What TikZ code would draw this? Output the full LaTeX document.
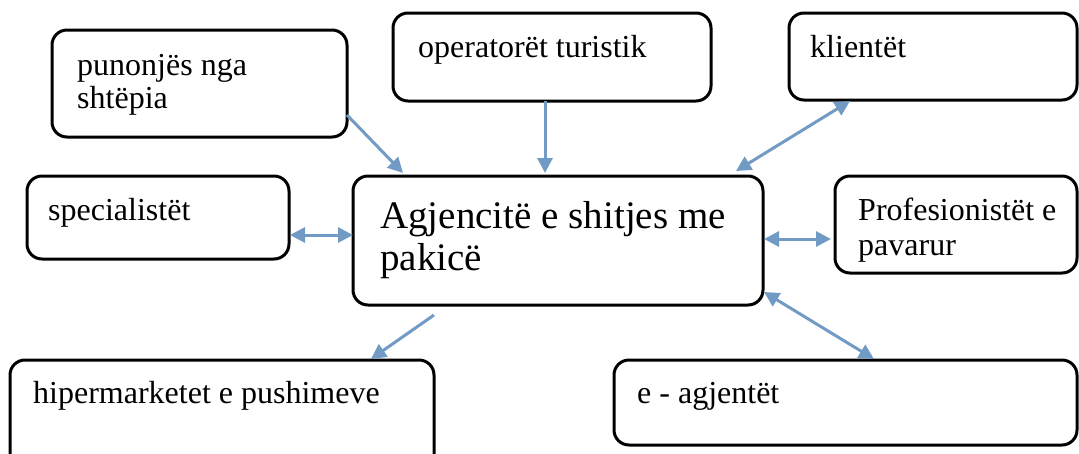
\documentclass[tikz,border=0pt]{standalone}
\usepackage{fontspec}
\setmainfont{Liberation Serif}
\usetikzlibrary{arrows.meta}
\definecolor{linkblue}{RGB}{113,155,197}
\tikzset{
  box/.style={draw=black,line width=3pt,rounded corners=15pt,inner sep=0pt,rectangle},
  lbl/.style={anchor=base west,inner sep=0pt,font=\fontsize{32}{36}\selectfont},
  biglbl/.style={anchor=base west,inner sep=0pt,font=\fontsize{39}{42}\selectfont},
  link/.style={draw=linkblue,line width=3pt,-{Triangle[length=15pt,width=15pt]}},
  biglink/.style={draw=linkblue,line width=3pt,{Triangle[length=15pt,width=15pt]}-{Triangle[length=15pt,width=15pt]}}
}
% a framed box given by its corners
\newcommand{\boxat}[5]{%
  \node[box,minimum width={#4-#2},minimum height={#5-#3}] (#1) at ({(#2+#4)/2},{(#3+#5)/2}) {};}
\begin{document}
\begin{tikzpicture}[x=1pt,y=-1pt]
\useasboundingbox (0,0) rectangle (1079,453);
\begin{scope}
\clip (0,0) rectangle (1079,453);
% boxes
\boxat{pun}{52}{30}{347}{137}
\boxat{ope}{393}{13}{711}{101}
\boxat{kli}{789}{13}{1077}{100}
\boxat{spe}{27}{176}{289}{259}
\boxat{cen}{353}{176}{763}{305}
\boxat{pro}{835}{176}{1077}{273}
\boxat{hip}{10}{360}{434}{470}
\boxat{eag}{614}{360}{1077}{445}
\end{scope}
% texts
\node[lbl] (t1) at (77,75) {punonjës nga};
\node[lbl] (t1b) at (77,108) {shtëpia};
\node[lbl] (t2) at (418,57) {operatorët turistik};
\node[lbl] (t3) at (810,57) {klientët};
\node[lbl] (t4) at (48,220) {specialistët};
\node[biglbl] (t5) at (380,228) {Agjencitë e shitjes me};
\node[biglbl] (t5b) at (380,270) {pakicë};
\node[lbl] (t6) at (858,220) {Profesionistët e};
\node[lbl] (t6b) at (858,255) {pavarur};
\node[lbl] (t7) at (33,403) {hipermarketet e pushimeve};
\node[lbl] (t8) at (637,403) {e - agjentët};
% connector ends
\coordinate (a1s) at (347,115); \coordinate (a1e) at (403,173);
\coordinate (a2s) at (545,101); \coordinate (a2e) at (545,173);
\coordinate (a3s) at (850,101); \coordinate (a3e) at (736,171);
\coordinate (a4s) at (290,235); \coordinate (a4e) at (353,235);
\coordinate (a5s) at (764,239); \coordinate (a5e) at (831,239);
\coordinate (a6s) at (434,315); \coordinate (a6e) at (371,359);
\coordinate (a7s) at (764,292); \coordinate (a7e) at (874,359);
\draw[link] (a1s) -- (a1e);
\draw[link] (a2s) -- (a2e);
\draw[biglink] (a3s) -- (a3e);
\draw[biglink] (a4s) -- (a4e);
\draw[biglink] (a5s) -- (a5e);
\draw[link] (a6s) -- (a6e);
\draw[biglink] (a7s) -- (a7e);
\end{tikzpicture}
\end{document}
